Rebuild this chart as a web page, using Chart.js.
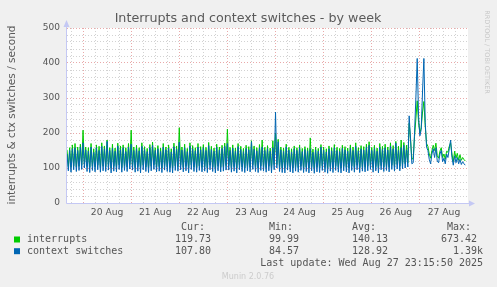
<!DOCTYPE html>
<html>
<head>
<meta charset="utf-8">
<script src="https://cdn.jsdelivr.net/npm/chart.js@4.4.0/dist/chart.umd.min.js"></script>
<style>
  html, body { margin: 0; padding: 0; background: #f0f0f0; }
  canvas { display: block; }
</style>
</head>
<body>
<canvas id="chart" width="497" height="287"></canvas>
<script>
// samples every 40 min, first one at Aug 19 16:00 (hour 0 of the x axis)
const stepHours = 2 / 3;
const dayLabels = ['20 Aug', '21 Aug', '22 Aug', '23 Aug', '24 Aug', '25 Aug', '26 Aug', '27 Aug'];

const contextSwitches = [
  140, 92, 150, 88, 155, 95, 158, 90, 150, 93, 160, 96,
  172, 100,
  152, 90, 148, 87, 160, 93, 145, 89, 158, 95, 150, 88, 162, 92, 155, 90, 176, 94, 150, 86, 157, 91, 148, 89, 163, 96, 152, 88, 158, 93, 147, 90, 160, 97,
  168, 94, 150, 88, 156, 91, 149, 86, 162, 95, 153, 90, 147, 87, 158, 92, 165, 96, 150, 89, 155, 91, 148, 87, 160, 94, 152, 90, 157, 88, 146, 86, 161, 93, 154, 91,
  174, 95, 151, 89, 158, 92, 147, 86, 163, 96, 155, 90, 149, 88, 160, 93, 152, 89, 158, 91, 150, 87, 164, 95, 153, 90, 148, 86, 159, 92, 151, 89, 156, 91, 162, 94,
  170, 94, 150, 88, 157, 91, 148, 86, 161, 95, 153, 90, 147, 87, 156, 92, 152, 89, 175, 96, 154, 90, 149, 87, 158, 93, 160, 91, 150, 88, 155, 92, 148, 86, 158, 95,
  260, 100, 175, 90, 152, 87, 148, 86, 160, 94, 151, 89, 146, 86, 155, 91, 150, 88, 158, 93, 147, 87, 153, 90, 149, 86, 155, 92, 145, 85, 152, 89, 148, 87, 160, 93,
  151, 88, 146, 85, 155, 91, 149, 87, 158, 93, 150, 88, 147, 86, 156, 92, 152, 89, 148, 86, 157, 93, 150, 88, 162, 95, 149, 87, 155, 91, 151, 89, 159, 92, 165, 96,
  150, 88, 156, 92, 148, 86, 160, 95, 153, 90, 158, 93, 151, 89, 162, 96, 155, 91, 171, 97, 150, 92, 158, 98, 165, 100, 152, 103,
  249, 180, 112, 115, 200, 300, 413, 250, 192, 210, 320, 413, 230, 160, 150, 125, 112, 140, 155, 130,
  158, 120, 115, 140, 150, 118, 128, 112, 140, 130, 155, 180, 130, 108, 135, 115, 130, 112, 125, 110, 118, 112, 108
];

const interrupts = [
  152, 104, 158, 102, 166, 106, 170, 103, 160, 105, 168, 108,
  208, 112,
  160, 104, 158, 102, 170, 106, 155, 103, 166, 108, 162, 101, 172, 105, 163, 104, 180, 107, 158, 100, 168, 105, 157, 102, 171, 109, 163, 101, 166, 106, 158, 103, 170, 110,
  208, 106, 160, 101, 165, 104, 158, 100, 172, 108, 161, 103, 156, 100, 167, 105, 174, 109, 158, 102, 164, 104, 157, 100, 170, 107, 160, 103, 166, 101, 155, 100, 171, 106, 163, 104,
  215, 108, 160, 102, 168, 105, 156, 100, 172, 109, 164, 103, 158, 101, 170, 106, 161, 102, 167, 104, 159, 100, 173, 108, 162, 103, 157, 100, 168, 105, 160, 102, 165, 104, 171, 107,
  211, 107, 159, 101, 166, 104, 157, 100, 170, 108, 162, 103, 156, 100, 165, 105, 161, 102, 178, 109, 163, 103, 158, 100, 167, 106, 180, 104, 159, 101, 164, 105, 157, 100, 178, 110,
  200, 110, 182, 102, 160, 100, 157, 100, 168, 106, 159, 102, 155, 100, 163, 104, 158, 101, 166, 105, 156, 100, 161, 103, 157, 100, 186, 104, 154, 100, 160, 102, 156, 100, 167, 106,
  160, 101, 155, 100, 163, 104, 158, 101, 167, 106, 159, 102, 156, 100, 165, 105, 161, 102, 157, 100, 166, 106, 160, 102, 172, 108, 158, 101, 164, 104, 161, 102, 168, 105, 175, 109,
  159, 101, 165, 104, 157, 100, 170, 107, 162, 103, 168, 105, 160, 102, 172, 108, 164, 104, 176, 110, 162, 105, 180, 110, 173, 112, 165, 115,
  228, 185, 125, 128, 190, 240, 292, 230, 200, 215, 260, 290, 220, 170, 162, 140, 128, 150, 165, 150,
  171, 135, 128, 148, 158, 130, 140, 125, 148, 145, 162, 172, 140, 118, 148, 128, 142, 122, 138, 122, 130, 124, 120
];

const legendNames = ['interrupts', 'context switches'];
const legendColors = ['#00cc00', '#0066b3'];
const curValues = ['119.73', '107.80'];
const minValues = ['99.99', '84.57'];
const avgValues = ['140.13', '128.92'];
const maxValues = ['673.42', '1.39k'];

const chartLeft = 67, chartRight = 468, chartTop = 28, chartBottom = 203;
const gridRed = '#e9a9a9';
const gridGray = '#d2d2d2';
const axisColor = '#c4c8f4';

function toPoints(values) {
  return values.map((v, i) => ({ x: i * stepHours, y: v }));
}

const gridHours = [];
for (let h = 2; h < 200; h += 6) gridHours.push(h);

const frame = {
  id: 'frame',
  beforeDraw(chart) {
    const c = chart.ctx, a = chart.chartArea;
    c.save();
    c.fillStyle = '#f0f0f0';
    c.fillRect(0, 0, chart.width, chart.height);
    c.fillStyle = '#ffffff';
    c.fillRect(a.left, a.top, a.right - a.left, a.bottom - a.top);
    c.restore();
  },
  afterDraw(chart) {
    const c = chart.ctx, a = chart.chartArea;
    c.save();
    // axes with arrows
    c.strokeStyle = axisColor;
    c.lineWidth = 1;
    c.beginPath();
    c.moveTo(a.left - 0.5, a.bottom + 0.5);
    c.lineTo(a.left - 0.5, a.top - 6);
    c.moveTo(a.left - 0.5, a.bottom + 0.5);
    c.lineTo(a.right + 2, a.bottom + 0.5);
    c.stroke();
    c.fillStyle = axisColor;
    c.beginPath();
    c.moveTo(a.left - 3.5, a.top - 1);
    c.lineTo(a.left + 2.5, a.top - 1);
    c.lineTo(a.left - 0.5, a.top - 8);
    c.closePath();
    c.fill();
    c.beginPath();
    c.moveTo(a.right + 1, a.bottom - 2.5);
    c.lineTo(a.right + 1, a.bottom + 3.5);
    c.lineTo(a.right + 7, a.bottom + 0.5);
    c.closePath();
    c.fill();

    // title
    c.fillStyle = '#5a5a5a';
    c.font = '12.7px "DejaVu Sans"';
    c.textAlign = 'center';
    c.textBaseline = 'middle';
    c.fillText('Interrupts and context switches - by week', 248, 19);

    // y axis title
    c.save();
    c.translate(12, 115);
    c.rotate(-Math.PI / 2);
    c.font = '10.5px "DejaVu Sans"';
    c.fillText('interrupts & ctx switches / second', 0, 0);
    c.restore();

    // rrdtool credit
    c.save();
    c.translate(487, 52);
    c.rotate(Math.PI / 2);
    c.fillStyle = '#c8c8c8';
    c.font = '6.5px "DejaVu Sans"';
    c.fillText('RRDTOOL / TOBI OETIKER', 0, 0);
    c.restore();

    // legend
    c.font = '10px "DejaVu Sans Mono"';
    c.fillStyle = '#555555';
    c.textAlign = 'left';
    c.fillText('Cur:', 181, 227.5);
    c.fillText('Min:', 269, 227.5);
    c.fillText('Avg:', 352, 227.5);
    c.fillText('Max:', 447, 227.5);
    legendNames.forEach((name, i) => {
      const y = 239.5 + i * 11.7;
      c.fillStyle = legendColors[i];
      c.fillRect(14, y - 3, 6, 6);
      c.fillStyle = '#555555';
      c.textAlign = 'left';
      c.fillText(name, 27, y);
      c.textAlign = 'right';
      c.fillText(curValues[i], 211, y);
      c.fillText(minValues[i], 299, y);
      c.fillText(avgValues[i], 388, y);
      c.fillText(maxValues[i], maxValues[i].endsWith('k') ? 483 : 477, y);
    });
    c.textAlign = 'right';
    c.fillText('Last update: Wed Aug 27 23:15:50 2025', 483, 263.5);

    c.textAlign = 'center';
    c.fillStyle = '#cccccc';
    c.font = '8px "DejaVu Sans"';
    c.fillText('Munin 2.0.76', 248, 277);
    c.restore();
  }
};

new Chart(document.getElementById('chart'), {
  type: 'line',
  data: {
    datasets: [
      { label: legendNames[0], data: toPoints(interrupts), borderColor: legendColors[0], borderWidth: 1, pointRadius: 0, tension: 0, order: 1 },
      { label: legendNames[1], data: toPoints(contextSwitches), borderColor: legendColors[1], borderWidth: 1, pointRadius: 0, tension: 0, order: 0 }
    ]
  },
  options: {
    responsive: false,
    animation: false,
    devicePixelRatio: 1,
    layout: { padding: { left: 0, top: chartTop, right: 497 - chartRight, bottom: 287 - chartBottom - 20 } },
    plugins: { legend: { display: false }, title: { display: false }, tooltip: { enabled: false } },
    scales: {
      x: {
        type: 'linear', min: 0, max: 200,
        afterBuildTicks: s => { s.ticks = gridHours.map(v => ({ value: v })); },
        afterFit: s => { s.height = 20; },
        ticks: {
          autoSkip: false, maxRotation: 0, padding: 4,
          font: { family: 'DejaVu Sans', size: 9.2 }, color: '#555555',
          callback: v => ((v - 20) % 24 === 0 ? dayLabels[(v - 20) / 24] : '')
        },
        grid: { drawTicks: false, lineWidth: 1, color: ctx => (ctx.tick && (ctx.tick.value - 8) % 24 === 0 ? gridRed : gridGray) },
        border: { display: false, dash: [1, 2] }
      },
      y: {
        min: 0, max: 500,
        afterFit: s => { s.width = chartLeft; },
        ticks: {
          stepSize: 20, maxTicksLimit: 40, autoSkip: false, padding: 7,
          font: { family: 'DejaVu Sans', size: 9 }, color: '#555555',
          callback: v => (v % 100 === 0 ? String(v) : '')
        },
        grid: { drawTicks: false, lineWidth: 1, color: ctx => (ctx.tick && ctx.tick.value % 100 === 0 ? gridRed : gridGray) },
        border: { display: false, dash: [1, 2] }
      }
    }
  },
  plugins: [frame]
});
</script>
</body>
</html>
